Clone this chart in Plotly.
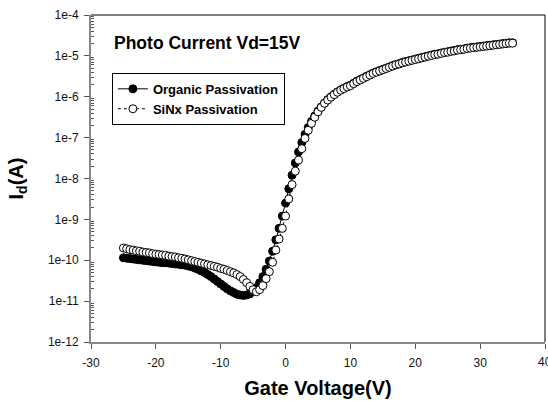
import plotly.graph_objects as go

# Gate voltage sweep (V)
gate_voltage = [
    -25.0, -24.5, -24.0, -23.5, -23.0, -22.5, -22.0, -21.5, -21.0, -20.5,
    -20.0, -19.5, -19.0, -18.5, -18.0, -17.5, -17.0, -16.5, -16.0, -15.5,
    -15.0, -14.5, -14.0, -13.5, -13.0, -12.5, -12.0, -11.5, -11.0, -10.5,
    -10.0, -9.5, -9.0, -8.5, -8.0, -7.5, -7.0, -6.5, -6.0, -5.5,
    -5.0, -4.5, -4.0, -3.5, -3.0, -2.5, -2.0, -1.5, -1.0, -0.5,
    0.0, 0.5, 1.0, 1.5, 2.0, 2.5, 3.0, 3.5, 4.0, 4.5,
    5.0, 5.5, 6.0, 6.5, 7.0, 7.5, 8.0, 8.5, 9.0, 9.5,
    10.0, 10.5, 11.0, 11.5, 12.0, 12.5, 13.0, 13.5, 14.0, 14.5,
    15.0, 15.5, 16.0, 16.5, 17.0, 17.5, 18.0, 18.5, 19.0, 19.5,
    20.0, 20.5, 21.0, 21.5, 22.0, 22.5, 23.0, 23.5, 24.0, 24.5,
    25.0, 25.5, 26.0, 26.5, 27.0, 27.5, 28.0, 28.5, 29.0, 29.5,
    30.0, 30.5, 31.0, 31.5, 32.0, 32.5, 33.0, 33.5, 34.0, 34.5,
    35.0,
]

# log10 of drain current (A)
organic_log_id = [
    -9.94, -9.95, -9.96, -9.97, -9.98, -9.99, -10.00, -10.01, -10.02, -10.03,
    -10.04, -10.05, -10.06, -10.06, -10.07, -10.08, -10.09, -10.10, -10.11, -10.12,
    -10.14, -10.16, -10.19, -10.22, -10.26, -10.30, -10.35, -10.40, -10.46, -10.52,
    -10.58, -10.64, -10.70, -10.75, -10.79, -10.83, -10.85, -10.86, -10.85, -10.82,
    -10.76, -10.67, -10.55, -10.40, -10.22, -10.02, -9.78, -9.50, -9.22, -8.92,
    -8.60, -8.25, -7.92, -7.62, -7.35, -7.12, -6.92, -6.75, -6.60, -6.47,
    -6.35, -6.25, -6.15, -6.07, -6.00, -5.94, -5.88, -5.83, -5.79, -5.75,
    -5.72, -5.67, -5.62, -5.58, -5.54, -5.50, -5.46, -5.42, -5.39, -5.36,
    -5.33, -5.30, -5.27, -5.24, -5.21, -5.19, -5.16, -5.14, -5.12, -5.10,
    -5.08, -5.06, -5.04, -5.02, -5.00, -4.98, -4.96, -4.95, -4.93, -4.91,
    -4.90, -4.88, -4.87, -4.85, -4.84, -4.83, -4.81, -4.80, -4.79, -4.78,
    -4.77, -4.76, -4.75, -4.74, -4.73, -4.72, -4.71, -4.70, -4.69, -4.68,
    -4.68,
]

sinx_log_id = [
    -9.70, -9.72, -9.74, -9.75, -9.77, -9.78, -9.80, -9.81, -9.82, -9.84,
    -9.85, -9.86, -9.87, -9.88, -9.90, -9.91, -9.92, -9.94, -9.95, -9.97,
    -9.99, -10.01, -10.03, -10.05, -10.07, -10.09, -10.11, -10.13, -10.15, -10.17,
    -10.20, -10.22, -10.25, -10.28, -10.31, -10.35, -10.40, -10.47, -10.55, -10.64,
    -10.72, -10.77, -10.72, -10.62, -10.45, -10.28, -10.05, -9.75, -9.48, -9.22,
    -8.92, -8.50, -8.15, -7.82, -7.55, -7.27, -7.02, -6.82, -6.65, -6.50,
    -6.37, -6.26, -6.16, -6.08, -6.01, -5.95, -5.89, -5.84, -5.80, -5.76,
    -5.73, -5.68, -5.63, -5.59, -5.55, -5.51, -5.47, -5.43, -5.40, -5.37,
    -5.34, -5.31, -5.28, -5.25, -5.22, -5.20, -5.17, -5.15, -5.13, -5.11,
    -5.09, -5.07, -5.05, -5.03, -5.01, -4.99, -4.97, -4.96, -4.94, -4.92,
    -4.91, -4.89, -4.88, -4.86, -4.85, -4.84, -4.82, -4.81, -4.80, -4.79,
    -4.78, -4.77, -4.76, -4.75, -4.74, -4.73, -4.72, -4.71, -4.70, -4.69,
    -4.69,
]

y_tick_exponents = [-12, -11, -10, -9, -8, -7, -6, -5, -4]
y_tick_labels = ["1e-12", "1e-11", "1e-10", "1e-9", "1e-8", "1e-7", "1e-6", "1e-5", "1e-4"]
x_tick_vals = [-30, -20, -10, 0, 10, 20, 30]
x_tick_labels = ["-30", "-20", "-10", "0", "10", "20", "30"]
x_last_tick = 40

organic_id = [10 ** v for v in organic_log_id]
sinx_id = [10 ** v for v in sinx_log_id]

FONT = "Liberation Sans, Arial, sans-serif"
TICK_FONT = dict(family=FONT, size=12, color="#111111")

fig = go.Figure()
fig.add_trace(go.Scatter(
    x=gate_voltage, y=organic_id, mode="lines+markers",
    name="<b>Organic Passivation</b>",
    line=dict(color="black", width=1),
    marker=dict(symbol="circle", size=8, color="black",
                line=dict(color="black", width=1)),
))
fig.add_trace(go.Scatter(
    x=gate_voltage, y=sinx_id, mode="lines+markers",
    name="<b>SiNx Passivation</b>",
    line=dict(color="black", width=1, dash="dot"),
    marker=dict(symbol="circle", size=8, color="white",
                line=dict(color="black", width=1)),
))

minor_vals = [k * 10.0 ** e for e in y_tick_exponents[:-1] for k in range(2, 10)]

fig.update_layout(
    width=548, height=401,
    margin=dict(l=91, r=3, t=15, b=59, autoexpand=False),
    paper_bgcolor="white", plot_bgcolor="white",
    font=dict(family=FONT, color="black", size=12),
    showlegend=True,
    legend=dict(
        x=0.046, y=0.823, xanchor="left", yanchor="top",
        bordercolor="black", borderwidth=1, bgcolor="white",
        font=dict(family=FONT, size=13, color="black"),
        tracegroupgap=0,
    ),
    xaxis=dict(
        range=[-30, 40], tickmode="array", tickvals=x_tick_vals + [x_last_tick],
        ticktext=x_tick_labels + [""],
        ticks="outside", ticklen=5, tickwidth=1, tickcolor="#555555",
        ticklabelstandoff=4,
        showline=True, linecolor="#888888", linewidth=2, showgrid=False, zeroline=False,
        automargin=False,
        tickfont=TICK_FONT,
        title=dict(text="<b>Gate Voltage(V)</b>", font=dict(family=FONT, size=20), standoff=12),
    ),
    yaxis=dict(
        type="log", range=[-12, -4], tickmode="array",
        tickvals=[10.0 ** e for e in y_tick_exponents], ticktext=y_tick_labels,
        ticks="outside", ticklen=5, tickwidth=1, tickcolor="#555555",
        ticklabelstandoff=3,
        minor=dict(tickmode="array", tickvals=minor_vals, ticks="inside", ticklen=3,
                   tickcolor="#555555", showgrid=False),
        showline=True, linecolor="#888888", linewidth=2, showgrid=False, zeroline=False,
        automargin=False,
        tickfont=TICK_FONT,
        title=dict(text="<b>I<sub>d</sub>(A)</b>", font=dict(family=FONT, size=20), standoff=19),
    ),
    shapes=[
        dict(type="line", xref="paper", yref="paper", x0=0, x1=1, y0=1, y1=1,
             line=dict(color="black", width=1)),
        dict(type="line", xref="paper", yref="paper", x0=1, x1=1, y0=0, y1=1,
             line=dict(color="black", width=1)),
    ],
    annotations=[
        dict(text="<b>Photo Current Vd=15V</b>", xref="paper", yref="paper",
             x=0.046, y=0.914, xanchor="left", yanchor="middle", showarrow=False,
             font=dict(family=FONT, size=17.5, color="black")),
        dict(text=str(x_last_tick), xref="x", yref="paper", x=x_last_tick, y=-0.033,
             xanchor="center", yanchor="top", showarrow=False, font=TICK_FONT),
    ],
)

fig.write_html("out.html", config={"displayModeBar": False},
               post_script="document.body.style.margin='0px';document.body.style.overflow='hidden';")
